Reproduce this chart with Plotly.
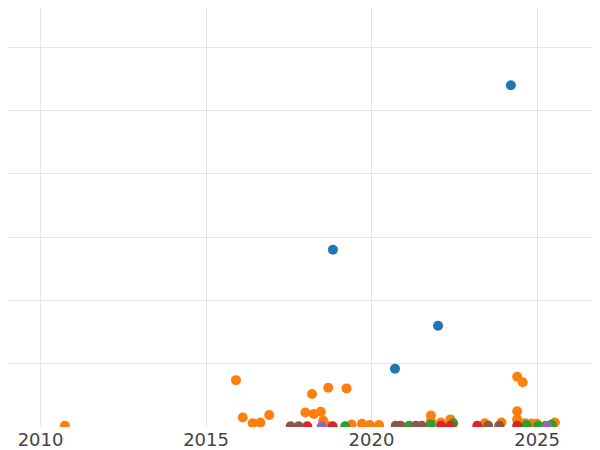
import plotly.graph_objects as go

# values (date, value) per group
blue_x = ["2024-03-17", "2018-11-01", "2022-01-04", "2020-09-16"]
blue_y = [54.0, 28.0, 16.0, 9.2]

orange_x = ["2010-09-27", "2015-11-27", "2016-02-10", "2016-05-30", "2016-08-22",
            "2016-11-28", "2018-01-01", "2018-03-15", "2018-04-05", "2018-06-20",
            "2018-07-17", "2018-08-17", "2018-09-10", "2019-03-31", "2019-05-26",
            "2019-09-17", "2019-12-13", "2020-03-24", "2021-10-17", "2021-10-17",
            "2022-02-06", "2022-05-20", "2023-06-04", "2023-12-05", "2024-05-26",
            "2024-07-26", "2024-05-26", "2024-05-26", "2024-08-20", "2024-11-01",
            "2024-12-28", "2025-07-16"]
orange_y = [0.2, 7.4, 1.5, 0.6, 0.7,
            1.9, 2.3, 5.2, 2.05, 2.4,
            1.0, 0.3, 6.2, 6.1, 0.4,
            0.5, 0.3, 0.3, 1.8, 0.9,
            0.7, 1.2, 0.6, 0.7, 7.95,
            7.06, 2.5, 1.2, 0.6, 0.55,
            0.5, 0.7]

green_x = ["2019-03-16", "2021-02-20", "2021-10-17", "2022-06-20", "2024-09-08",
           "2025-01-11", "2025-04-05", "2025-06-10"]
green_y = [0.1, 0.2, 0.4, 0.6, 0.3, 0.2, 0.2, 0.4]

red_x = ["2018-01-22", "2018-10-29", "2022-02-06", "2022-05-20", "2023-03-13", "2024-05-26"]
red_y = [0.1, 0.1, 0.2, 0.2, 0.2, 0.2]

purple_x = ["2018-07-01", "2025-04-22"]
purple_y = [0.1, 0.1]

brown_x = ["2017-07-22", "2017-10-19", "2020-09-24", "2020-11-17", "2021-05-04",
           "2021-07-08", "2023-07-11", "2023-11-10"]
brown_y = [0.1, 0.1, 0.2, 0.2, 0.2, 0.2, 0.2, 0.2]

groups = [
    (blue_x, blue_y, "#1f77b4"),
    (orange_x, orange_y, "#ff7f0e"),
    (green_x, green_y, "#2ca02c"),
    (red_x, red_y, "#d62728"),
    (purple_x, purple_y, "#9467bd"),
    (brown_x, brown_y, "#8c564b"),
]

fig = go.Figure()
for xs, ys, color in groups:
    fig.add_trace(go.Scatter(
        x=xs, y=ys,
        mode="markers",
        marker=dict(size=10, color=color),
    ))

# page has an 8px body margin; the figure runs past the right edge of the window
fig.update_layout(
    width=600, height=442,
    margin=dict(l=0, r=0, t=0, b=23),
    showlegend=False,
    template="plotly_white",
    font=dict(family="DejaVu Sans", size=18, color="#444"),
)
fig.update_xaxes(
    range=["2009-01-07", "2027-02-22"],
    tick0="2010-01-01", dtick="M60", tickformat="%Y",
    gridcolor="#e6e6e6", gridwidth=1, zeroline=False,
)
fig.update_yaxes(
    range=[0, 66.19], dtick=10,
    showticklabels=False,
    gridcolor="#e6e6e6", gridwidth=1, zeroline=False,
)

fig.write_html("out.html")
